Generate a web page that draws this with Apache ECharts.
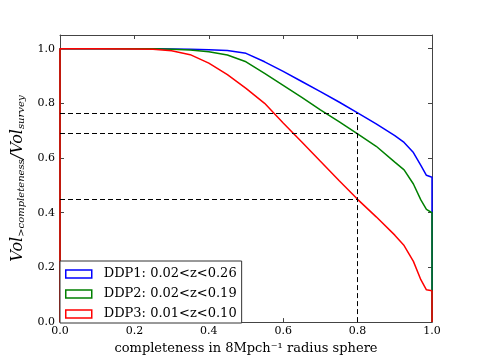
<!DOCTYPE html>
<html>
<head>
<meta charset="utf-8">
<script src="https://cdn.jsdelivr.net/npm/echarts@6/dist/echarts.min.js"></script>
<style>
  html, body { margin: 0; padding: 0; background: #fff; }
  #chart { width: 480px; height: 360px; }
</style>
</head>
<body>
<div id="chart"></div>
<script>
// completeness threshold (x) and volume fraction above it for each sample
const completeness = [0, 0, 0.1, 0.2, 0.25, 0.3, 0.35, 0.4, 0.45, 0.5, 0.55, 0.6, 0.65, 0.7, 0.75, 0.8, 0.85, 0.9, 0.925, 0.95, 0.97, 0.985, 1.0, 1.0]
const ddp1 = [0, 1, 1, 1, 1, 0.999, 0.998, 0.996, 0.993, 0.983, 0.952, 0.917, 0.880, 0.843, 0.805, 0.765, 0.725, 0.682, 0.657, 0.620, 0.573, 0.537, 0.530, 0]
const ddp2 = [0, 1, 1, 1, 1, 0.998, 0.995, 0.989, 0.977, 0.952, 0.910, 0.866, 0.822, 0.776, 0.733, 0.688, 0.643, 0.585, 0.557, 0.505, 0.447, 0.412, 0.400, 0]
const ddp3 = [0, 1, 1, 0.999, 0.998, 0.992, 0.978, 0.947, 0.905, 0.855, 0.800, 0.728, 0.659, 0.588, 0.518, 0.449, 0.385, 0.318, 0.280, 0.222, 0.155, 0.118, 0.115, 0]

const seriesNames = ['DDP1: 0.02<z<0.26', 'DDP2: 0.02<z<0.19', 'DDP3: 0.01<z<0.10']
const colors = ['#0000ff', '#008000', '#ff0000']

// dashed guide lines at completeness 0.8
const cutX = 0.8
const cutY = [0.765, 0.69, 0.45]

const chart = echarts.init(document.getElementById('chart'), null, { renderer: 'canvas' })

const font = 'DejaVu Serif'
const frame = '#444'

const pairs = (ys) => completeness.map((x, i) => [x, ys[i]])

const guides = cutY.map((y) => [{ coord: [0, y] }, { coord: [cutX, y] }])
guides.push([{ coord: [cutX, 0] }, { coord: [cutX, cutY[0]] }])

const axisCommon = {
  axisLine: { show: true, onZero: false, lineStyle: { color: frame, width: 1 } },
  axisTick: { show: true, inside: true, length: 4, lineStyle: { color: frame } },
  splitLine: { show: false },
}

const option = {
  animation: false,
  backgroundColor: '#fff',
  grid: { left: 60, right: 48, top: 35, bottom: 37 },
  legend: {
    orient: 'vertical',
    left: 60,
    bottom: 37,
    backgroundColor: '#fff',
    borderColor: '#333',
    borderWidth: 1,
    padding: [6, 5, 2, 5],
    itemWidth: 26,
    itemHeight: 8,
    itemGap: 6,
    textStyle: { fontFamily: font, fontSize: 13, color: '#000', lineHeight: 14, padding: [0, 0, 0, 7] },
    data: seriesNames.map((n, i) => ({
      name: n,
      icon: 'rect',
      itemStyle: { color: '#fff', borderColor: colors[i], borderWidth: 1.5 },
    })),
  },
  xAxis: [
    {
      type: 'value',
      min: 0,
      max: 1,
      interval: 0.2,
      position: 'bottom',
      ...axisCommon,
      axisLabel: { fontFamily: font, fontSize: 11, color: '#000', margin: 4, formatter: (v) => v.toFixed(1) },
      name: 'completeness in 8Mpch\u207B\u00B9 radius sphere',
      nameLocation: 'middle',
      nameGap: 18,
      nameTextStyle: { fontFamily: font, fontSize: 13, color: '#000' },
    },
    {
      type: 'value',
      min: 0,
      max: 1,
      interval: 0.2,
      position: 'top',
      ...axisCommon,
      axisLabel: { show: false },
    },
  ],
  yAxis: [
    {
      type: 'value',
      min: 0,
      max: 1.05,
      interval: 0.2,
      position: 'left',
      ...axisCommon,
      axisLabel: {
        fontFamily: font, fontSize: 11, color: '#000', margin: 5,
        formatter: (v) => (v > 1.001 ? '' : v.toFixed(1)),
      },
      name: '{a|Vol}{s|>completeness}{a|/Vol}{s|survey}',
      nameLocation: 'middle',
      nameGap: 18,
      nameRotate: 90,
      nameTextStyle: {
        rich: {
          a: { fontFamily: font, fontStyle: 'italic', fontSize: 16, color: '#000' },
          s: { fontFamily: font, fontStyle: 'italic', fontSize: 10, color: '#000', padding: [8, 0, 0, 0] },
        },
      },
    },
    {
      type: 'value',
      min: 0,
      max: 1.05,
      interval: 0.2,
      position: 'right',
      ...axisCommon,
      axisLabel: { show: false },
    },
  ],
  series: [
    ...seriesNames.map((n, i) => ({
      name: n,
      type: 'line',
      data: pairs([ddp1, ddp2, ddp3][i]),
      showSymbol: false,
      lineStyle: { color: colors[i], width: 1.5 },
      itemStyle: { color: colors[i] },
      z: 3,
    })),
    {
      name: 'guides',
      type: 'line',
      data: [],
      z: 2,
      markLine: {
        silent: true,
        symbol: 'none',
        label: { show: false },
        lineStyle: { color: '#000', type: [5, 3], width: 1 },
        data: guides,
      },
    },
  ],
}

chart.setOption(option)
</script>
</body>
</html>
